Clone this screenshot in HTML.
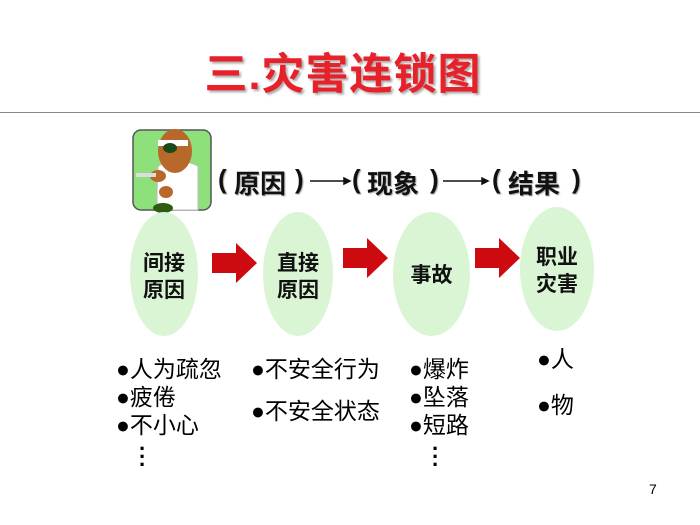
<!DOCTYPE html>
<html><head><meta charset="utf-8"><style>
body{margin:0;width:700px;height:525px;background:#fff;position:relative;overflow:hidden;font-family:"Liberation Sans","Noto Sans CJK SC",sans-serif}
.a{position:absolute;white-space:nowrap}
.e{position:absolute;background:#d9f5d3;border-radius:50%}
.t{position:absolute;font-weight:bold;font-size:21px;text-align:center;line-height:27px;color:#111}
.b{font-size:23px;line-height:28px;color:#000}
.h{position:absolute;top:164px;font-size:26px;font-weight:bold;color:#111;text-shadow:1px 1px 1px #aaa}
</style></head><body>
<div class="a" style="left:0;top:40px;width:686px;text-align:center;font-size:43px;font-weight:bold;color:#e8202a;text-shadow:2px 2px 2px #aaa;letter-spacing:1px">三.灾害连锁图</div>
<div class="a" style="left:0;top:112px;width:700px;height:1px;background:#888"></div>

<svg class="a" style="left:128px;top:126px" width="88" height="90" viewBox="0 0 88 90">
<rect x="5" y="4" width="78" height="80" rx="8" fill="#8ee07a" stroke="#555" stroke-width="1.5"/>
<path d="M30 40 Q28 84 30 84 L70 84 L70 40 Q50 30 30 40Z" fill="#fff" stroke="#bbb"/>
<ellipse cx="47" cy="25" rx="17" ry="22" fill="#b8682a"/>
<rect x="30" y="14" width="30" height="6" fill="#fff"/>
<ellipse cx="42" cy="22" rx="7" ry="5" fill="#1a4a1a"/>
<ellipse cx="30" cy="50" rx="8" ry="6" fill="#b8682a"/>
<rect x="8" y="47" width="20" height="4" fill="#ddd"/>
<ellipse cx="38" cy="66" rx="7" ry="6" fill="#b8682a"/>
<ellipse cx="35" cy="82" rx="10" ry="5" fill="#2f5c10"/>
</svg>

<div class="h" style="left:218px">(</div>
<div class="h" style="left:234px">原因</div>
<div class="h" style="left:295px">)</div>
<div class="h" style="left:352px">(</div>
<div class="h" style="left:367px">现象</div>
<div class="h" style="left:430px">)</div>
<div class="h" style="left:492px">(</div>
<div class="h" style="left:508px">结果</div>
<div class="h" style="left:572px">)</div>
<svg class="a" style="left:0;top:0" width="700" height="525">
<g stroke="#111" stroke-width="1.5" fill="#111">
<line x1="310" y1="181" x2="346" y2="181"/><polygon points="344,178 350,181 344,184"/>
<line x1="443" y1="181" x2="484" y2="181"/><polygon points="482,178 488,181 482,184"/>
</g>
<g fill="#cc0a10">
<polygon points="212,253 236,253 236,243 257,263 236,283 236,273 212,273"/>
<polygon points="343,248 367,248 367,238 388,258 367,278 367,268 343,268"/>
<polygon points="475,248 499,248 499,238 520,258 499,278 499,268 475,268"/>
</g>
</svg>

<div class="e" style="left:130px;top:212px;width:68px;height:124px"></div>
<div class="e" style="left:263px;top:212px;width:70px;height:124px"></div>
<div class="e" style="left:393px;top:212px;width:77px;height:124px"></div>
<div class="e" style="left:520px;top:207px;width:74px;height:124px"></div>
<div class="t" style="left:130px;top:250px;width:68px">间接<br>原因</div>
<div class="t" style="left:263px;top:250px;width:70px">直接<br>原因</div>
<div class="t" style="left:393px;top:262px;width:77px">事故</div>
<div class="t" style="left:520px;top:244px;width:74px">职业<br>灾害</div>

<div class="a b" style="left:116px;top:355px">●人为疏忽<br>●疲倦<br>●不小心</div>
<div class="a b" style="left:139px;top:445px;line-height:8px;font-size:22px;font-weight:bold">·<br>·<br>·</div>
<div class="a b" style="left:251px;top:355px">●不安全行为</div>
<div class="a b" style="left:251px;top:397px">●不安全状态</div>
<div class="a b" style="left:409px;top:355px">●爆炸<br>●坠落<br>●短路</div>
<div class="a b" style="left:432px;top:445px;line-height:8px;font-size:22px;font-weight:bold">·<br>·<br>·</div>
<div class="a b" style="left:537px;top:345px">●人</div>
<div class="a b" style="left:537px;top:391px">●物</div>
<div class="a" style="left:649px;top:481px;font-size:14px">7</div>
</body></html>
